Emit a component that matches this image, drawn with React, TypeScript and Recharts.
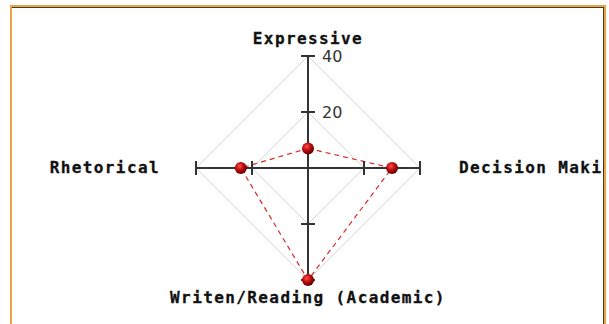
import { RadarChart, Radar, PolarGrid, PolarAngleAxis, PolarRadiusAxis } from 'recharts';

// skill areas, clockwise from the top
const skills = ['Expressive', 'Decision Making', 'Writen/Reading (Academic)', 'Rhetorical'];
const scores = [7, 30, 40, 24];
const radiusTicks = [20, 40];
const maxScore = 40;

const data = skills.map((skill, i) => ({ skill, score: scores[i] }));

const CX = 296;
const CY = 161;
const R = 112;
const RAD = Math.PI / 180;

const labelFont = {
  fontFamily: '"DejaVu Sans Mono", monospace',
  fontWeight: 'bold' as const,
  fontSize: 16,
  letterSpacing: 1.4,
  fill: '#111',
  stroke: '#111',
  strokeWidth: 0.3,
};

// each angle tick draws its arm of the cross (with tick marks) plus the skill name
function AngleTick(props: any) {
  const { x, y, payload, index } = props;
  const cx = props.cx ?? CX;
  const cy = props.cy ?? CY;
  const radius = props.radius ?? R;
  const angle = payload.coordinate * RAD;
  const ux = Math.cos(angle);
  const uy = -Math.sin(angle);
  const end = { x: cx + radius * ux, y: cy + radius * uy };
  const marks = radiusTicks.map((t) => {
    const r = (t / maxScore) * radius;
    const px = cx + r * ux;
    const py = cy + r * uy;
    return (
      <line
        key={t}
        x1={px - 7 * uy}
        y1={py + 7 * ux}
        x2={px + 7 * uy}
        y2={py - 7 * ux}
        stroke="#333"
        strokeWidth={2}
      />
    );
  });

  let tx = x;
  let ty = y;
  let anchor = 'middle';
  if (uy < -0.5) {
    ty = y - 4;
  } else if (uy > 0.5) {
    ty = y + 15;
  } else if (ux > 0) {
    tx = x + 31;
    ty = y + 5;
    anchor = 'start';
  } else {
    tx = x - 28;
    ty = y + 5;
    anchor = 'end';
  }

  return (
    <g key={index}>
      <line x1={cx} y1={cy} x2={end.x} y2={end.y} stroke="#333" strokeWidth={2} />
      {marks}
      <text x={tx} y={ty} textAnchor={anchor} {...labelFont}>
        {payload.value}
      </text>
    </g>
  );
}

function RadiusTick(props: any) {
  const { x, y, payload } = props;
  return (
    <text
      x={x + 14}
      y={y}
      dominantBaseline="central"
      fontFamily='"DejaVu Sans", sans-serif'
      fontSize={16}
      fill="#333"
    >
      {payload.value}
    </text>
  );
}

function ScoreDot(props: any) {
  const { cx, cy, index } = props;
  return <circle key={index} cx={cx} cy={cy} r={6} fill="url(#dotShade)" />;
}

export default function App() {
  return (
    <div style={{ position: 'absolute', left: 0, top: 0, width: 609, height: 324, background: '#fff', overflow: 'hidden' }}>
      <div
        style={{
          position: 'absolute',
          left: 10,
          top: 5,
          width: 592,
          height: 330,
          borderTop: '2px solid #e9a443',
          borderLeft: '2px solid #e9a443',
          borderRight: '2px solid #e9a443',
          boxShadow: 'inset -1px 1px 0 #4a3a20',
          overflow: 'hidden',
          background: '#fff',
        }}
      >
        <RadarChart width={592} height={320} data={data} cx={CX} cy={CY} outerRadius={R}>
          <defs>
            <radialGradient id="dotShade" cx="40%" cy="35%" r="65%">
              <stop offset="0%" stopColor="#ff5050" />
              <stop offset="50%" stopColor="#c00c0c" />
              <stop offset="100%" stopColor="#5e0000" />
            </radialGradient>
          </defs>
          <PolarGrid gridType="polygon" radialLines={false} stroke="#d9d9d9" />
          <PolarAngleAxis dataKey="skill" axisLine={false} tickLine={false} tick={AngleTick} />
          <PolarRadiusAxis
            angle={90}
            domain={[0, maxScore]}
            ticks={radiusTicks}
            axisLine={false}
            tick={RadiusTick}
          />
          <Radar
            dataKey="score"
            stroke="#d42a2a"
            strokeWidth={1.2}
            strokeDasharray="5 4"
            fill="none"
            fillOpacity={0}
            dot={ScoreDot}
            isAnimationActive={false}
          />
        </RadarChart>
      </div>
    </div>
  );
}
